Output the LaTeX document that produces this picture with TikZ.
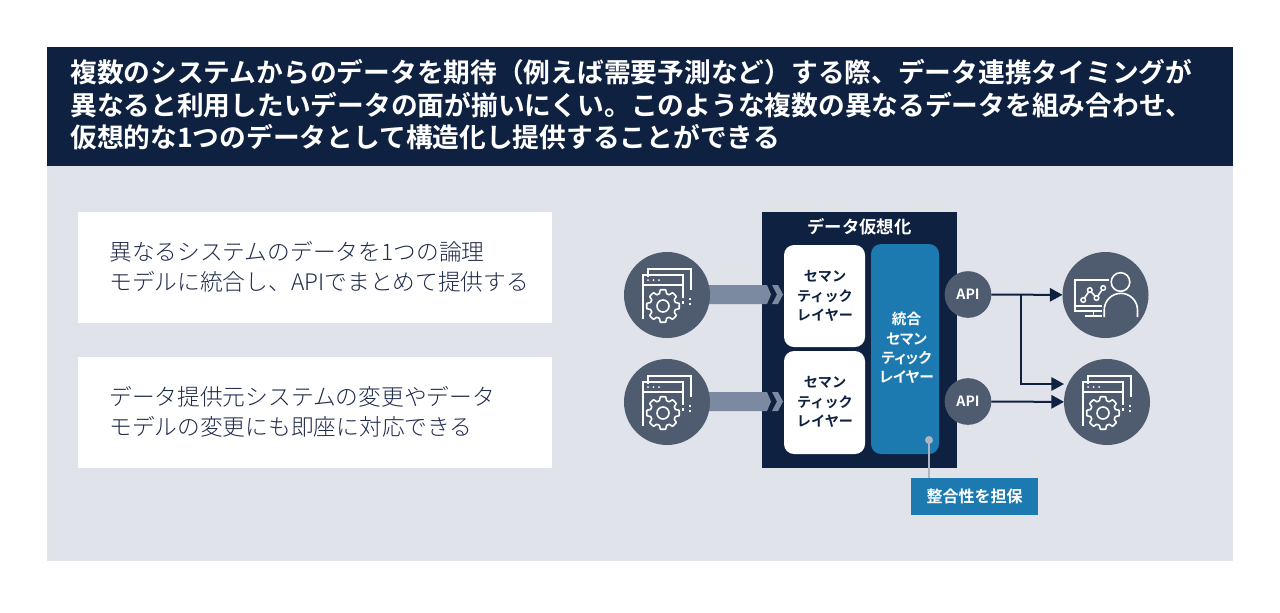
\documentclass[tikz,border=0pt]{standalone}
\usepackage{fontspec}
\setmainfont{Noto Sans CJK JP}
\newfontfamily\jplight{Noto Sans CJK JP Light}
\newfontfamily\jpbd{Noto Sans CJK JP Bold}
\newfontfamily\jpbdpalt[RawFeature=+palt]{Noto Sans CJK JP Bold}
\usetikzlibrary{arrows.meta}
\definecolor{navy}{HTML}{0F2140}
\definecolor{pagebg}{HTML}{E0E3EA}
\definecolor{blueb}{HTML}{1C7AB0}
\definecolor{slate}{HTML}{4F5B6E}
\definecolor{band}{HTML}{7B8AA0}
\definecolor{tick}{HTML}{AEB4C2}
\definecolor{bodytxt}{HTML}{1F2C4A}
\newcommand{\fz}[2]{\fontsize{#1}{#2}\selectfont}
\tikzset{
 x=0.75pt,y=-0.75pt,
 icircle/.style={circle,fill=slate,draw=none,inner sep=0pt,outer sep=0pt,minimum size=64.5pt},
 apicircle/.style={circle,fill=slate,draw=none,inner sep=0pt,outer sep=0pt,minimum size=35pt,text=white,font=\jpbd\fz{10.6pt}{12pt}},
 iconline/.style={draw=white,line width=1.2pt,line cap=butt},
 flow/.style={draw=navy,line width=1.5pt,-{Triangle[length=9.5pt,width=10pt]}},
 semtxt/.style={align=center,font=\jpbd\fz{10.6pt}{14.4pt},text=navy},
 bodytext/.style={anchor=west,align=left,inner sep=0pt,text=bodytxt,font=\jplight\fz{17.05pt}{22.5pt}},
 winicon/.pic={
  \draw[iconline] (-19,-18)--(-19,-26)--(24,-26)--(24,-5);
  \draw[iconline] (-24,24)--(-24,-20)--(16,-20)--(16,3);
  \draw[iconline] (-24,-10)--(16,-10);
  \draw[iconline] (16,6)--(16,9);
  \draw[iconline] (23,3)--(23,5) (23,8)--(23,10);
  \fill[white] (-19,-15) circle[radius=1] (-13.5,-15) circle[radius=1] (-8,-15) circle[radius=1];
  \begin{scope}[shift={(-4,11)},scale=0.84]
  \draw[iconline,line join=round] plot[smooth cycle,tension=0.15] coordinates {
   (-3.2,-19.2)(3.2,-19.2)(4.2,-14.8)(7.4,-13.4)(11.3,-15.8)(15.8,-11.3)(13.4,-7.4)(14.8,-4.2)(19.2,-3.2)(19.2,3.2)(14.8,4.2)(13.4,7.4)(15.8,11.3)(11.3,15.8)(7.4,13.4)(4.2,14.8)(3.2,19.2)(-3.2,19.2)(-4.2,14.8)(-7.4,13.4)(-11.3,15.8)(-15.8,11.3)(-13.4,7.4)(-14.8,4.2)(-19.2,3.2)(-19.2,-3.2)(-14.8,-4.2)(-13.4,-7.4)(-15.8,-11.3)(-11.3,-15.8)(-7.4,-13.4)(-4.2,-14.8)
  };
  \end{scope}
  \draw[iconline] (-4,11) circle[radius=6];
 },
 usericon/.pic={
  \draw[iconline] (15,-13) circle[radius=9.3];
  \draw[iconline] (-1.3,22)--(-1.3,15) arc[start angle=180,end angle=360,radius=16.65]--(32,22);
  \draw[iconline] (3.7,-15)--(-30.7,-15)--(-30.7,16)--(-4,16);
  \draw[iconline] (-30.7,11)--(-4,11);
  \draw[iconline] (-12,16)--(-12,21) (-21,21)--(-4,21);
  \draw[iconline] (-22.3,5)--(-15.7,-5)--(-9,3)--(-2.3,-7);
  \foreach \p in {(-22.3,5),(-15.7,-5),(-9,3),(-2.3,-7)} \filldraw[draw=white,fill=slate,line width=1.1pt] \p circle[radius=2.3];
 },
}
\begin{document}
\begin{tikzpicture}
\useasboundingbox (0,0) rectangle (1280,612);
\fill[white] (0,0) rectangle (1280,612);
\fill[pagebg] (47,166) rectangle (1233,561);
\fill[navy] (47,47) rectangle (1233,166);
\node[anchor=west,inner sep=0pt,text=white,align=left,font=\jpbd\fz{20.05pt}{24.4pt}] (title) at (70,105) {複数のシステムからのデータを期待（例えば需要予測など）する際、データ連携タイミングが\\異なると利用したいデータの面が揃いにくい。このような複数の異なるデータを組み合わせ、\\仮想的な1つのデータとして構造化し提供することができる};
\fill[white] (78,212) rectangle (552,323);
\fill[white] (78,357) rectangle (552,468);
\node[bodytext] (t1) at (109,266.5) {異なるシステムのデータを1つの論理\\モデルに統合し、APIでまとめて提供する};
\node[bodytext] (t2) at (109,411.5) {データ提供元システムの変更やデータ\\モデルの変更にも即座に対応できる};
\fill[navy] (762,212) rectangle (957,468);
\foreach \yy in {294.5,401.5}{
 \fill[band] (700,\yy-9.5) -- (767,\yy-9.5) -- (771,\yy) -- (767,\yy+9.5) -- (700,\yy+9.5) -- cycle;
 \fill[band] (772,\yy-9.5) -- (778,\yy-9.5) -- (783,\yy) -- (778,\yy+9.5) -- (772,\yy+9.5) -- (777,\yy) -- cycle;
}
\node[icircle] (s1) at (667,295) {};
\node[icircle] (s2) at (667,402) {};
\pic at (667,295) {winicon};
\pic at (667,402) {winicon};
\fill[white,rounded corners=7.5pt] (784,245) rectangle (865,347);
\fill[white,rounded corners=7.5pt] (784,351) rectangle (865,454);
\fill[blueb,rounded corners=7.5pt] (871,244) rectangle (939,454);
\node[text=white,font=\jpbd\fz{13pt}{15pt}] (vt) at (859.5,227) {データ仮想化};
\node[semtxt] (l1) at (825,296) {セマン\\ティック\\レイヤー};
\node[semtxt] (l2) at (825,402) {セマン\\ティック\\レイヤー};
\node[semtxt,text=white,font=\jpbdpalt\fz{11pt}{14.4pt}] (l3) at (906.5,348) {統合\\セマン\\ティック\\レイヤー};
\node[apicircle] (a1) at (968,294.5) {API};
\node[apicircle] (a2) at (968,401.5) {API};
\node[icircle] (u) at (1105.5,295) {};
\node[icircle] (t) at (1107,402) {};
\pic at (1105.5,295) {usericon};
\pic at (1107,402) {winicon};
\coordinate (br) at (1021,295);
\coordinate (t3) at (1064,384);
\draw[flow] (a1) -- (u);
\draw[flow] (br) |- (t3);
\draw[flow] (a2) -- (t);
\node[fill=blueb,text=white,minimum width=95.25pt,minimum height=27.75pt,inner sep=0pt,outer sep=0pt,font=\jpbd\fz{12pt}{14pt}] (lab) at (974.5,496.5) {整合性を担保};
\coordinate (dot) at (929,440);
\draw[tick,line width=1.2pt] (dot) -- (dot |- lab.north);
\fill[tick] (dot) circle[radius=4];
\end{tikzpicture}
\end{document}
